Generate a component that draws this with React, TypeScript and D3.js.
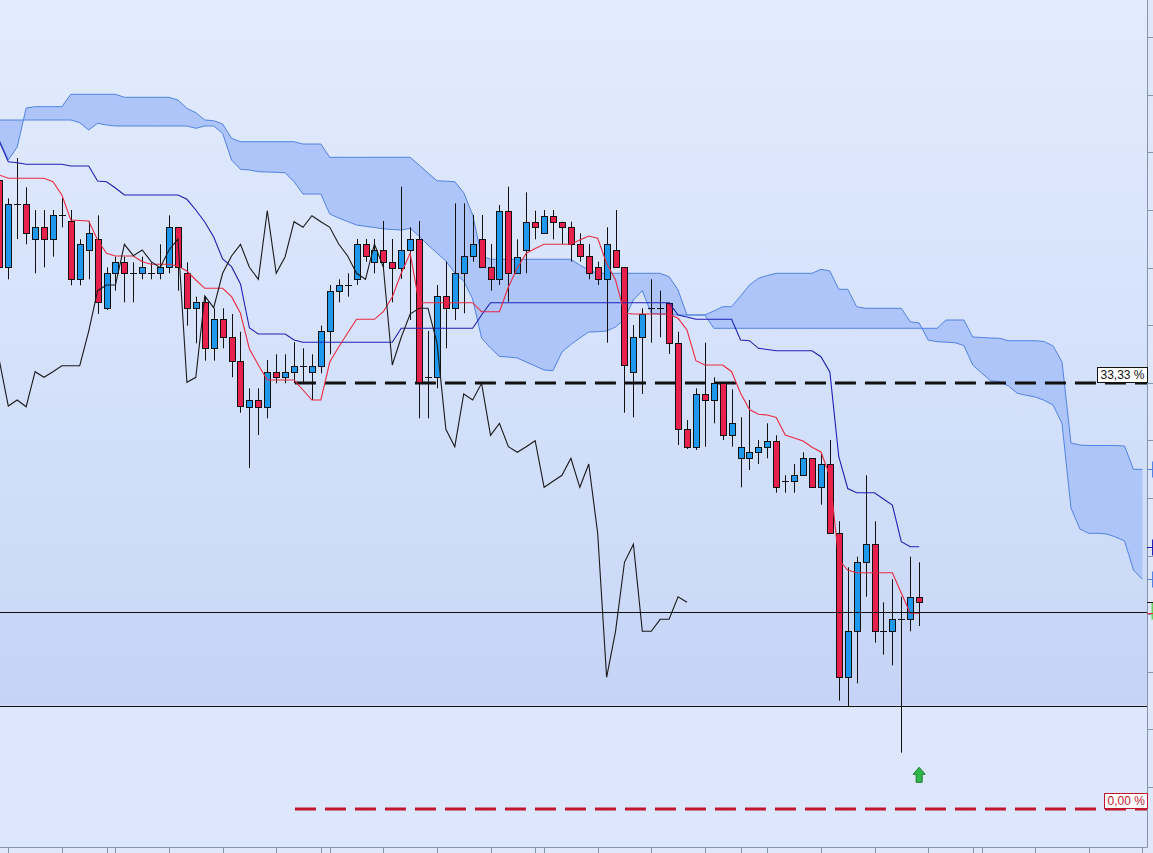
import React, { useEffect, useRef } from "react";
import * as d3 from "d3";

// bar index of the first entry in every per-bar array (it sits half out of the left edge)
const firstBar = -1;

// candles, bar -1 .. 102
const opens = [
  82.0, 73.27, 79.57, 79.57, 76.07, 77.27, 76.07, 78.47, 77.87, 72.07,
  74.97, 76.07, 69.17, 72.67, 73.77, 72.67, 72.67, 72.67, 72.67, 73.27,
  77.27, 72.67, 69.17, 69.77, 65.17, 68.07, 66.27, 63.93, 59.33, 60.0,
  59.33, 62.83, 62.27, 62.83, 63.43, 62.83, 63.43, 66.87, 70.93, 71.5,
  72.1, 75.57, 73.83, 75.0, 73.77, 73.23, 75.0, 76.1, 62.27, 62.27,
  70.4, 69.23, 72.67, 74.4, 76.07, 73.27, 72.07, 78.93, 72.67, 75.0,
  77.83, 76.67, 78.43, 77.83, 77.27, 75.6, 74.4, 73.27, 72.07, 75.0,
  73.27, 62.83, 66.27, 69.17, 69.17, 69.73, 65.73, 57.07, 55.33, 60.6,
  60.0, 61.67, 56.47, 54.17, 54.17, 54.77, 55.33, 55.93, 51.87, 51.87,
  52.47, 54.17, 51.27, 53.6, 46.67, 32.27, 36.87, 43.77, 45.57, 36.87,
  36.87, 38.07, 38.07, 40.33,
];
const highs = [
  82.8, 80.17, 84.2, 81.27, 79.0, 79.0, 79.0, 80.17, 79.0, 76.07,
  77.87, 78.47, 73.27, 74.33, 74.33, 73.77, 74.33, 73.77, 75.57, 78.47,
  77.27, 73.77, 70.33, 70.33, 69.17, 69.17, 68.6, 66.83, 61.17, 61.17,
  64.0, 64.57, 64.57, 65.77, 65.17, 64.57, 67.43, 71.5, 72.07, 72.67,
  76.1, 76.1, 76.1, 77.9, 76.1, 81.33, 77.27, 77.9, 66.9, 71.5,
  73.83, 79.67, 79.67, 78.5, 78.5, 75.6, 79.5, 81.33, 76.07, 80.77,
  78.93, 79.0, 79.0, 77.83, 77.83, 76.67, 75.6, 73.83, 77.27, 79.0,
  73.27, 67.5, 69.17, 72.07, 70.93, 69.73, 66.83, 58.0, 61.17, 65.73,
  62.27, 61.67, 61.07, 58.27, 60.0, 56.0, 57.67, 56.47, 52.47, 53.6,
  54.77, 54.17, 54.73, 56.0, 47.87, 43.27, 44.33, 52.47, 47.87, 39.77,
  42.07, 40.33, 44.33, 43.77,
];
const lows = [
  72.8, 72.07, 76.1, 75.57, 72.67, 73.27, 74.33, 77.27, 71.47, 71.47,
  72.07, 68.6, 69.0, 70.93, 69.77, 69.77, 72.07, 72.07, 72.07, 72.67,
  70.93, 67.43, 65.67, 63.93, 63.93, 65.17, 62.27, 58.73, 53.2, 56.5,
  58.17, 61.67, 61.67, 61.67, 61.67, 60.0, 62.67, 64.57, 69.77, 70.33,
  71.5, 73.83, 72.67, 73.23, 69.77, 72.1, 68.0, 58.17, 58.17, 61.17,
  65.17, 68.0, 68.67, 73.83, 73.23, 70.93, 71.5, 69.83, 72.67, 72.67,
  76.07, 76.67, 76.07, 75.6, 73.83, 73.83, 72.07, 71.5, 65.73, 73.27,
  58.73, 58.27, 60.6, 65.73, 66.27, 64.6, 55.5, 55.1, 55.0, 55.33,
  57.67, 56.0, 55.33, 51.27, 53.0, 53.6, 54.17, 50.73, 50.73, 50.73,
  52.47, 51.27, 49.53, 46.67, 29.93, 29.33, 31.67, 40.33, 35.73, 34.53,
  33.47, 24.73, 36.87, 37.4,
];
const closes = [
  73.3, 79.57, 79.57, 76.67, 77.27, 76.07, 78.47, 78.47, 72.07, 75.57,
  76.67, 69.77, 72.67, 73.77, 72.67, 72.67, 73.27, 72.67, 73.27, 77.27,
  73.27, 69.17, 69.77, 65.17, 68.07, 66.27, 63.93, 59.4, 60.0, 59.33,
  62.83, 62.27, 62.83, 63.43, 63.43, 63.43, 66.87, 70.93, 71.5, 71.5,
  75.57, 74.43, 75.0, 73.83, 73.23, 75.0, 76.1, 61.77, 62.27, 70.4,
  69.23, 72.67, 74.4, 75.57, 73.27, 72.07, 78.93, 72.67, 74.33, 77.83,
  77.27, 78.43, 77.83, 77.27, 75.6, 74.4, 72.67, 72.07, 75.6, 73.27,
  63.5, 66.27, 68.6, 69.17, 69.17, 65.73, 57.07, 55.33, 60.6, 60.0,
  61.67, 56.47, 57.67, 55.33, 54.77, 55.33, 55.93, 51.27, 51.87, 52.47,
  54.17, 51.27, 53.6, 46.67, 32.27, 36.87, 43.77, 45.57, 36.87, 36.87,
  38.07, 38.07, 40.33, 39.77,
];

// conversion line (red) and base line (dark blue), bar -1 .. 102
const tenkan = [
  82.5, 82.17, 82.17, 82.17, 82.17, 82.17, 81.83, 80.5, 78.0, 77.95,
  77.9, 76.0, 74.67, 74.4, 74.4, 74.4, 73.83, 73.57, 73.57, 73.57,
  73.4, 72.9, 72.0, 71.17, 71.17, 71.17, 70.33, 68.67, 65.1, 63.5,
  62.0, 62.0, 62.0, 62.0, 61.0, 60.0, 60.0, 63.8, 65.3, 66.7,
  68.07, 68.07, 68.07, 68.83, 70.3, 72.67, 74.67, 69.73, 69.73, 69.73,
  69.73, 69.73, 69.73, 69.73, 68.83, 68.83, 68.83, 71.3, 73.2, 74.67,
  75.15, 75.57, 75.57, 75.57, 75.57, 76.0, 76.4, 76.17, 73.67, 72.0,
  68.67, 68.6, 68.6, 68.6, 68.6, 68.6, 68.17, 67.0, 63.93, 63.5,
  63.5, 63.5, 62.83, 60.67, 59.05, 58.57, 58.5, 58.25, 56.5, 56.2,
  55.9, 55.27, 54.8, 52.4, 44.0, 43.0, 42.73, 42.73, 42.73, 42.73,
  42.73, 40.7, 38.67, 38.67,
];
const kijun = [
  85.83, 83.83, 83.73, 83.57, 83.57, 83.57, 83.57, 83.57, 83.4, 83.4,
  83.4, 81.9, 81.83, 81.2, 80.5, 80.5, 80.5, 80.5, 80.5, 80.5,
  80.5, 80.07, 79.0, 77.8, 76.3, 74.1, 73.33, 71.6, 67.2, 66.6,
  66.6, 66.6, 66.6, 66.0, 65.77, 65.77, 65.77, 65.77, 65.77, 65.77,
  65.77, 65.77, 65.77, 65.77, 65.77, 67.17, 67.17, 67.17, 67.17, 67.17,
  67.17, 67.17, 67.17, 67.17, 68.5, 69.73, 69.73, 69.73, 69.73, 69.73,
  69.73, 69.73, 69.73, 69.73, 69.73, 69.73, 69.73, 69.73, 69.73, 69.73,
  69.73, 69.73, 69.73, 69.73, 69.73, 69.73, 68.5, 68.3, 68.07, 68.07,
  68.07, 68.07, 68.07, 66.0, 65.93, 65.17, 65.05, 64.93, 64.93, 64.93,
  64.93, 64.93, 64.33, 62.8, 54.33, 51.15, 50.73, 50.73, 50.73, 50.1,
  49.5, 45.83, 45.33, 45.33,
];

// cloud edges, bar -1 .. 127 (they run 25 bars past the last candle)
const spanA = [
  88.0, 88.0, 88.0, 88.0, 88.0, 88.0, 88.0, 88.0, 88.0, 87.73,
  87.0, 87.67, 87.5, 87.4, 87.4, 87.4, 87.4, 87.4, 87.4, 87.4,
  87.4, 87.4, 87.17, 87.4, 87.4, 86.67, 84.0, 83.07, 83.0, 82.83,
  82.8, 82.77, 82.73, 81.83, 80.6, 80.6, 80.6, 78.6, 78.2, 77.85,
  77.5, 77.37, 77.25, 77.12, 77.05, 77.0, 77.17, 76.4, 75.5, 74.7,
  73.9, 72.7, 71.9, 70.1, 66.2, 65.2, 64.35, 64.3, 64.2, 63.8,
  63.4, 63.0, 62.93, 64.8, 65.55, 66.2, 66.8, 66.83, 66.9, 67.3,
  68.1, 70.0, 70.93, 68.67, 68.6, 68.55, 68.5, 68.5, 68.5, 68.5,
  68.9, 69.33, 69.33, 70.4, 71.5, 72.17, 72.45, 72.67, 72.67, 72.67,
  72.67, 72.67, 73.07, 72.9, 71.07, 71.07, 69.33, 69.17, 69.17, 69.17,
  69.17, 69.17, 67.83, 67.7, 66.0, 65.83, 65.78, 65.73, 65.45, 63.5,
  62.7, 61.93, 61.85, 61.4, 60.67, 60.47, 60.3, 59.97, 59.5, 57.65,
  49.2, 47.1, 46.67, 46.67, 46.6, 46.3, 45.9, 43.0, 42.07,
];
const spanB = [
  86.0, 84.0, 85.3, 89.2, 89.33, 89.33, 89.33, 89.33, 90.57, 90.57,
  90.57, 90.57, 90.57, 90.57, 90.27, 90.27, 90.27, 90.27, 90.27, 90.27,
  90.0, 89.17, 88.73, 88.0, 87.93, 87.6, 86.17, 85.83, 85.83, 85.83,
  85.83, 85.83, 85.83, 85.83, 85.6, 85.6, 85.6, 84.27, 84.27, 84.27,
  84.27, 84.27, 84.27, 84.27, 84.27, 84.27, 84.27, 83.5, 82.7, 81.93,
  81.88, 81.83, 80.73, 78.5, 74.4, 74.07, 74.07, 74.07, 74.07, 74.07,
  74.07, 74.07, 74.07, 74.07, 74.07, 73.5, 73.0, 72.67, 72.67, 72.67,
  72.67, 72.67, 72.67, 72.67, 72.67, 72.33, 71.0, 68.5, 68.5, 68.5,
  67.17, 67.17, 67.17, 67.17, 67.17, 67.17, 67.17, 67.17, 67.17, 67.17,
  67.17, 67.17, 67.17, 67.17, 67.17, 67.17, 67.17, 67.17, 67.17, 67.17,
  67.17, 67.17, 67.17, 67.17, 67.17, 67.17, 68.0, 68.0, 68.0, 66.3,
  66.25, 66.2, 66.17, 65.93, 65.93, 65.93, 65.93, 65.85, 65.4, 63.8,
  55.7, 55.5, 55.45, 55.45, 55.45, 55.45, 55.4, 53.07, 53.07,
];

// lagging line = closes drawn this many bars back
const chikouShift = 26;

const priceTicks = [96.3, 90.55, 84.77, 79.0, 73.25, 67.5, 61.73, 55.95, 50.18, 44.4, 38.63, 32.85, 27.08, 21.3];
const timeTicks = [0, 6, 11, 12, 18, 24, 30, 35, 36, 42, 48, 54, 59, 60, 66, 72, 78, 82, 85, 91, 97, 103, 108, 109, 115, 121, 127];

// retracement levels
const levelLabels = ["33,33 %", "0,00 %"];
const levelValues = [61.7, 19.1];
const levelStartBar = 32.1;

// support zone between two horizontal lines
const zoneEdges = [38.85, 29.43];

// price markers cut off at the right edge: cloud B, base line, cloud A, close, conversion
const edgeValues = [53.07, 45.33, 42.07, 39.77, 38.67];

// buy signal arrow under the last bar (tip price)
const signalBar = 102;
const signalPrice = 23.27;

const IchimokuChart: React.FC = () => {
  const chartRef = useRef<SVGSVGElement>(null);

  useEffect(() => {
    const width = 1153;
    const height = 853;
    const plotRight = 1147;
    const plotBottom = 847;
    const lastBar = firstBar + spanA.length - 1;

    const x = d3.scaleLinear().domain([firstBar, lastBar]).range([-0.63, 1142.41]);
    const y = d3.scaleLinear().domain([14.7, 100]).range([height, 0]);
    const px = (k: number) => Math.round(x(k)) + 0.5;
    const py = (v: number) => Math.round(y(v)) + 0.5;

    const upColor = "#1e98ec";
    const downColor = "#e8204e";
    const cloudEdge = "#5282e4";
    const kijunColor = "#2020b4";
    const tenkanColor = "#ea2a3e";
    const axisColor = "#8496ae";

    const svg = d3.select(chartRef.current);
    svg.selectAll("*").remove();
    svg.attr("width", width).attr("height", height);

    const defs = svg.append("defs");
    const grad = defs
      .append("linearGradient")
      .attr("id", "bgGrad")
      .attr("x1", 0)
      .attr("y1", 0)
      .attr("x2", 0)
      .attr("y2", 1);
    grad.append("stop").attr("offset", "0%").attr("stop-color", "#e2ecfe");
    grad.append("stop").attr("offset", "100%").attr("stop-color", "#c8d7f7");
    defs.append("clipPath").attr("id", "plotClip").append("rect").attr("width", plotRight).attr("height", plotBottom);

    // background
    const zoneTop = y(zoneEdges[0]);
    const zoneBottom = y(zoneEdges[1]);
    svg.append("rect").attr("width", width).attr("height", height).attr("fill", "#dfe8fb");
    svg.append("rect").attr("width", plotRight).attr("height", zoneBottom).attr("fill", "url(#bgGrad)");
    svg
      .append("rect")
      .attr("y", zoneBottom)
      .attr("width", plotRight)
      .attr("height", plotBottom - zoneBottom)
      .attr("fill", "#dce6fd");
    svg
      .append("rect")
      .attr("y", zoneTop)
      .attr("width", plotRight)
      .attr("height", zoneBottom - zoneTop)
      .attr("fill", "#7f9de0")
      .attr("opacity", 0.04);

    const plot = svg.append("g").attr("clip-path", "url(#plotClip)");

    // cloud
    const cloud = spanA.map((a, i) => ({ k: i + firstBar, a, b: spanB[i] }));
    plot
      .append("path")
      .datum(cloud)
      .attr("fill", "#adc5f8")
      .attr(
        "d",
        d3
          .area<{ k: number; a: number; b: number }>()
          .x((d) => x(d.k))
          .y0((d) => y(d.a))
          .y1((d) => y(d.b))
      );
    [spanA, spanB].forEach((span) => {
      plot
        .append("path")
        .datum(span)
        .attr("fill", "none")
        .attr("stroke", cloudEdge)
        .attr("stroke-width", 1)
        .attr(
          "d",
          d3
            .line<number>()
            .x((_, i) => x(i + firstBar))
            .y((v) => y(v))
        );
    });

    // dashed retracement levels
    const levelColors = ["#111111", "#c2162e"];
    levelValues.forEach((v, i) => {
      plot
        .append("line")
        .attr("x1", x(levelStartBar))
        .attr("x2", plotRight)
        .attr("y1", y(v))
        .attr("y2", y(v))
        .attr("stroke", levelColors[i])
        .attr("stroke-width", 3)
        .attr("stroke-dasharray", "21,9");
    });

    // candles
    const bars = opens.map((o, i) => ({ k: i + firstBar, o, h: highs[i], l: lows[i], c: closes[i] }));
    const candle = plot.append("g").selectAll("g").data(bars).enter().append("g");
    candle
      .append("line")
      .attr("x1", (d) => px(d.k))
      .attr("x2", (d) => px(d.k))
      .attr("y1", (d) => y(d.h))
      .attr("y2", (d) => y(d.l))
      .attr("stroke", "#111")
      .attr("stroke-width", 1);
    candle
      .filter((d) => d.o !== d.c)
      .append("rect")
      .attr("x", (d) => px(d.k) - 3)
      .attr("y", (d) => py(Math.max(d.o, d.c)))
      .attr("width", 6)
      .attr("height", (d) => Math.max(1, py(Math.min(d.o, d.c)) - py(Math.max(d.o, d.c))))
      .attr("fill", (d) => (d.c > d.o ? upColor : downColor))
      .attr("stroke", "#111")
      .attr("stroke-width", 1);
    candle
      .filter((d) => d.o === d.c)
      .append("line")
      .attr("x1", (d) => px(d.k) - 3.5)
      .attr("x2", (d) => px(d.k) + 3.5)
      .attr("y1", (d) => py(d.o))
      .attr("y2", (d) => py(d.o))
      .attr("stroke", "#111")
      .attr("stroke-width", 1);

    // indicator lines
    const barLine = d3
      .line<number>()
      .x((_, i) => x(i + firstBar))
      .y((v) => y(v));
    plot
      .append("path")
      .datum(kijun)
      .attr("fill", "none")
      .attr("stroke", kijunColor)
      .attr("stroke-width", 1.1)
      .attr("d", barLine);
    plot
      .append("path")
      .datum(tenkan)
      .attr("fill", "none")
      .attr("stroke", tenkanColor)
      .attr("stroke-width", 1.1)
      .attr("d", barLine);
    plot
      .append("path")
      .datum(closes.slice(chikouShift))
      .attr("fill", "none")
      .attr("stroke", "#1a1a1a")
      .attr("stroke-width", 1.1)
      .attr("d", barLine);

    // support zone edges
    zoneEdges.forEach((v) => {
      plot
        .append("line")
        .attr("x1", 0)
        .attr("x2", plotRight)
        .attr("y1", py(v))
        .attr("y2", py(v))
        .attr("stroke", "#111")
        .attr("stroke-width", 1);
    });

    // signal arrow
    const ax = x(signalBar);
    const ay = y(signalPrice);
    plot
      .append("path")
      .attr(
        "d",
        `M${ax},${ay} L${ax + 6},${ay + 7} L${ax + 3},${ay + 7} L${ax + 3},${ay + 15} ` +
          `L${ax - 3},${ay + 15} L${ax - 3},${ay + 7} L${ax - 6},${ay + 7} Z`
      )
      .attr("fill", "#2fb84c")
      .attr("stroke", "#1b7a2e")
      .attr("stroke-width", 1);

    // axes
    svg
      .append("line")
      .attr("x1", plotRight + 0.5)
      .attr("x2", plotRight + 0.5)
      .attr("y1", 0)
      .attr("y2", plotBottom + 0.5)
      .attr("stroke", axisColor);
    svg
      .append("line")
      .attr("x1", 0)
      .attr("x2", plotRight + 0.5)
      .attr("y1", plotBottom + 0.5)
      .attr("y2", plotBottom + 0.5)
      .attr("stroke", axisColor);
    svg
      .append("g")
      .selectAll("line")
      .data(priceTicks)
      .enter()
      .append("line")
      .attr("x1", plotRight)
      .attr("x2", width)
      .attr("y1", (d) => py(d))
      .attr("y2", (d) => py(d))
      .attr("stroke", axisColor);
    svg
      .append("g")
      .selectAll("line")
      .data(timeTicks)
      .enter()
      .append("line")
      .attr("x1", (d) => px(d))
      .attr("x2", (d) => px(d))
      .attr("y1", plotBottom)
      .attr("y2", height)
      .attr("stroke", axisColor);

    // price markers at the right edge (their labels fall outside the window)
    const edgeColors = [cloudEdge, kijunColor, cloudEdge, "#111", tenkanColor];
    svg
      .append("rect")
      .attr("x", plotRight + 4.5)
      .attr("y", py(edgeValues[3]))
      .attr("width", 12)
      .attr("height", 17)
      .attr("fill", "#66d45e");
    edgeValues.forEach((v, i) => {
      svg
        .append("line")
        .attr("x1", plotRight)
        .attr("x2", width)
        .attr("y1", py(v))
        .attr("y2", py(v))
        .attr("stroke", edgeColors[i]);
      if (i < 3) {
        svg
          .append("rect")
          .attr("x", plotRight + 5.5)
          .attr("y", py(v) - 7.5)
          .attr("width", 20)
          .attr("height", 15)
          .attr("fill", "none")
          .attr("stroke", edgeColors[i]);
      }
    });

    // level labels
    levelValues.forEach((v, i) => {
      const g = svg.append("g");
      const text = g
        .append("text")
        .attr("y", y(v) - 4)
        .attr("font-family", "'Liberation Sans', Arial, sans-serif")
        .attr("font-size", 12)
        .attr("fill", levelColors[i])
        .text(levelLabels[i]);
      const w = (text.node() as SVGTextElement).getComputedTextLength() + 6;
      const bx = plotRight - w;
      g.insert("rect", "text")
        .attr("x", Math.round(bx) + 0.5)
        .attr("y", Math.round(y(v) - 16) + 0.5)
        .attr("width", Math.round(w))
        .attr("height", 15)
        .attr("fill", "#ffffff")
        .attr("stroke", levelColors[i]);
      text.attr("x", Math.round(bx) + 3.5);
    });
  }, []);

  return <svg ref={chartRef} style={{ position: "absolute", left: 0, top: 0, display: "block" }}></svg>;
};

const App: React.FC = () => <IchimokuChart />;

export default App;
